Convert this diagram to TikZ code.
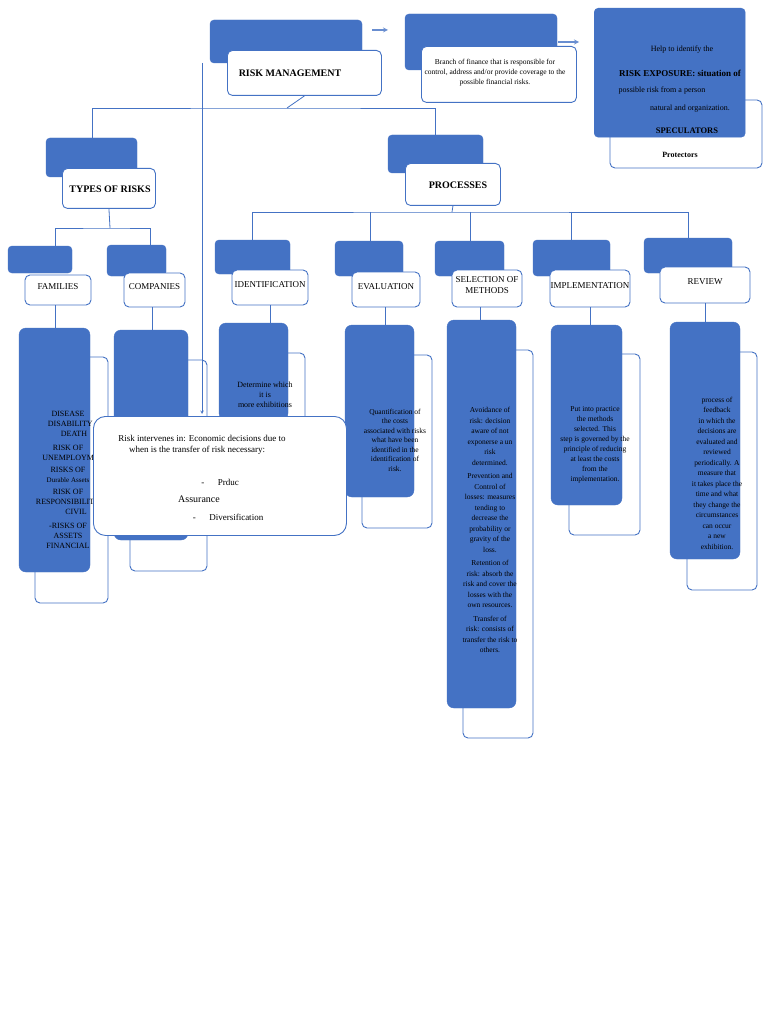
\documentclass[tikz,border=0pt]{standalone}
\usepackage{fontspec}
\setmainfont{Liberation Serif}
\begin{document}
\begin{tikzpicture}[x=1pt,y=-1pt,
  bl/.style={fill=myblue,draw=myblue,rounded corners=4pt},
  wh/.style={fill=white,draw=myblue,line width=0.9pt,rounded corners=5pt},
  ln/.style={draw=myblue,line width=0.8pt},
  tx/.style={font=\fontsize{8}{10}\selectfont,align=center,inner sep=0pt},
  hd/.style={font=\fontsize{10}{12}\selectfont\bfseries,inner sep=0pt},
  lb/.style={font=\fontsize{9}{11}\selectfont,inner sep=0pt,align=center}]
\definecolor{myblue}{HTML}{4472C4}
\useasboundingbox (0,0) rectangle (768,1024);
\fill[white] (0,0) rectangle (768,1024);
% top row
\draw[bl] (210,20) rectangle (362,63);
\node[wh,minimum width=154,minimum height=45,anchor=north west] (rm) at (227,50) {};
\node[hd] at (290,73) {RISK MANAGEMENT};
\draw[bl] (405,14) rectangle (557,70);
\node[wh,minimum width=155,minimum height=56,anchor=north west] (def) at (421,46) {};
\node[tx,font=\fontsize{7.5}{10}\selectfont] at (495,73) {Branch of finance that is responsible for\\control, address and/or provide coverage to the\\possible financial risks.};
\draw[wh] (610,100) rectangle (762,168);
\node[bl,minimum width=151,minimum height=129,anchor=north west,inner sep=0] (helpB) at (594,8) {};
\node[tx] at (682,50) {Help to identify the};
\node[tx,font=\fontsize{9}{11}\selectfont\bfseries] at (680,73) {RISK EXPOSURE: situation of};
\node[tx] at (662,91) {possible risk from a person};
\node[tx] at (690,109) {natural and organization.};
\node[tx,font=\fontsize{8.5}{10}\selectfont\bfseries] at (687,131) {SPECULATORS};
\node[tx,font=\fontsize{8}{10}\selectfont\bfseries] at (680,155) {Protectors};
\coordinate (a1) at (372,30); \coordinate (a2) at (388,30);
\draw[ln,-stealth,line width=1.2pt,color=myblue!80] (a1) -- (a2);
\coordinate (b1) at (558,42); \coordinate (b2) at (579,42);
\draw[ln,-stealth,line width=1.2pt,color=myblue!80] (b1) -- (b2);
% second level
\draw[bl] (46,138) rectangle (137,177);
\node[wh,minimum width=93,minimum height=40,anchor=north west] (types) at (62,168) {};
\node[hd] at (110,189) {TYPES OF RISKS};
\draw[bl] (388,135) rectangle (483,173);
\node[wh,minimum width=95,minimum height=42,anchor=north west] (proc) at (405,163) {};
\node[hd] at (458,185) {PROCESSES};
\draw[ln] (rm.south) -- (287,108) coordinate (j1);
\draw[ln] (92,138) |- (j1) -| (435,135);
% third level
\foreach \n/\bx/\by/\ex/\ey/\wx/\wy/\wex/\wey/\t in {
 fam/8/246/72/273/25/275/91/305/FAMILIES,
 comp/107/245/166/276/124/273/185/307/COMPANIES,
 iden/215/240/290/274/232/270/308/305/IDENTIFICATION,
 eval/335/241/403/276/352/272/420/307/EVALUATION,
 sel/435/241/504/276/452/270/522/307/{SELECTION OF\\METHODS},
 impl/533/240/610/276/550/270/630/307/IMPLEMENTATION,
 rev/644/238/732/273/660/267/750/303/REVIEW}{
  \draw[bl] (\bx,\by) rectangle (\ex,\ey);
  \draw[wh] (\wx,\wy) rectangle (\wex,\wey);
  \node[lb] (\n) at ({(\wx+\wex)/2},{(\wy+\wey)/2-3}) {\t};
}
\coordinate (tj) at (110,228);
\draw[ln] (types.south) -- (110,228);
\draw[ln] (55,246) |- (tj) -| (150,245);
\draw[ln] (proc.south) -- (452,212) coordinate (pj);
\draw[ln] (252,240) |- (pj) -| (688,238);
\foreach \x in {370,470,571}{\draw[ln] (\x,212) -- (\x,241);}
% lower boxes: blue on top of white
\foreach \bx/\by/\ex/\ey/\wx/\wy/\wex/\wey in {
 35/357/108/603/19/328/90/572,
 130/360/207/571/114/330/188/540,
 235/353/305/450/219/323/288/420,
 362/355/432/528/345/325/414/497,
 463/350/533/738/447/320/516/708,
 569/354/640/535/551/325/622/505,
 687/352/757/590/670/322/740/559}{
  \draw[wh] (\bx,\by) rectangle (\ex,\ey);
  \draw[bl,rounded corners=7pt] (\wx,\wy) rectangle (\wex,\wey);
}
\foreach \x/\a/\b in {55/305/328,152/307/330,270/305/323,385/307/325,480/307/320,590/307/325,705/303/322}{
  \draw[ln] (\x,\a) -- (\x,\b);}
% texts
\node[tx] (famT) at (68,480) {DISEASE\hspace{2em}\\\hspace{3em}DISABILITY AND\\\hspace{1.5em}DEATH\\[4pt]RISK OF\\\hspace{2em}UNEMPLOYMENT\\[2pt]RISKS OF\\{\fontsize{7}{9}\selectfont Durable Assets}\\[2pt]RISK OF\\RESPONSIBILITY\\\hspace{2em}CIVIL\\[4pt]-RISKS OF\\ASSETS\\FINANCIAL};
\node[tx] (idT) at (265,395) {Determine which\\it is\\more exhibitions};
\node[tx,font=\fontsize{7.5}{9.5}\selectfont] (evT) at (395,440) {Quantification of\\the costs\\associated with risks\\what have been\\identified in the\\identification of\\risk.};
\node[tx,font=\fontsize{7.5}{10.5}\selectfont] (selT) at (490,530) {Avoidance of\\risk: decision\\aware of not\\exponerse a un\\risk\\determined.\\[3pt]Prevention and\\Control of\\losses: measures\\tending to\\decrease the\\probability or\\gravity of the\\loss.\\[3pt]Retention of\\risk: absorb the\\risk and cover the\\losses with the\\own resources.\\[3pt]Transfer of\\risk: consists of\\transfer the risk to\\others.};
\node[tx,font=\fontsize{7.5}{10}\selectfont] (impT) at (595,445) {Put into practice\\the methods\\selected. This\\step is governed by the\\principle of reducing\\at least the costs\\from the\\implementation.};
\node[tx,font=\fontsize{7.5}{10.5}\selectfont] (revT) at (717,473) {process of\\feedback\\in which the\\decisions are\\evaluated and\\reviewed\\periodically. A\\measure that\\it takes place the\\time and what\\they change the\\circumstances\\can occur\\a new\\exhibition.};
% vertical arrow & callout
\coordinate (v1) at (202,63);
\node[wh,rounded corners=12pt,minimum width=253,minimum height=119,anchor=north west] (call) at (93,416) {};
\draw[ln,-stealth,line width=0.6pt] (v1) -- (202,414);
\node[tx,font=\fontsize{9}{11}\selectfont,align=left] at (202,445) {Risk intervenes in: Economic decisions due to\\\hspace{1.2em}when is the transfer of risk necessary:};
\node[tx,font=\fontsize{9}{11}\selectfont] at (220,482) {-\hspace{1.5em}Prduc};
\node[tx,font=\fontsize{10}{12}\selectfont] at (199,499) {Assurance};
\node[tx,font=\fontsize{9}{11}\selectfont] at (228,517) {-\hspace{1.5em}Diversification};
\end{tikzpicture}
\end{document}
